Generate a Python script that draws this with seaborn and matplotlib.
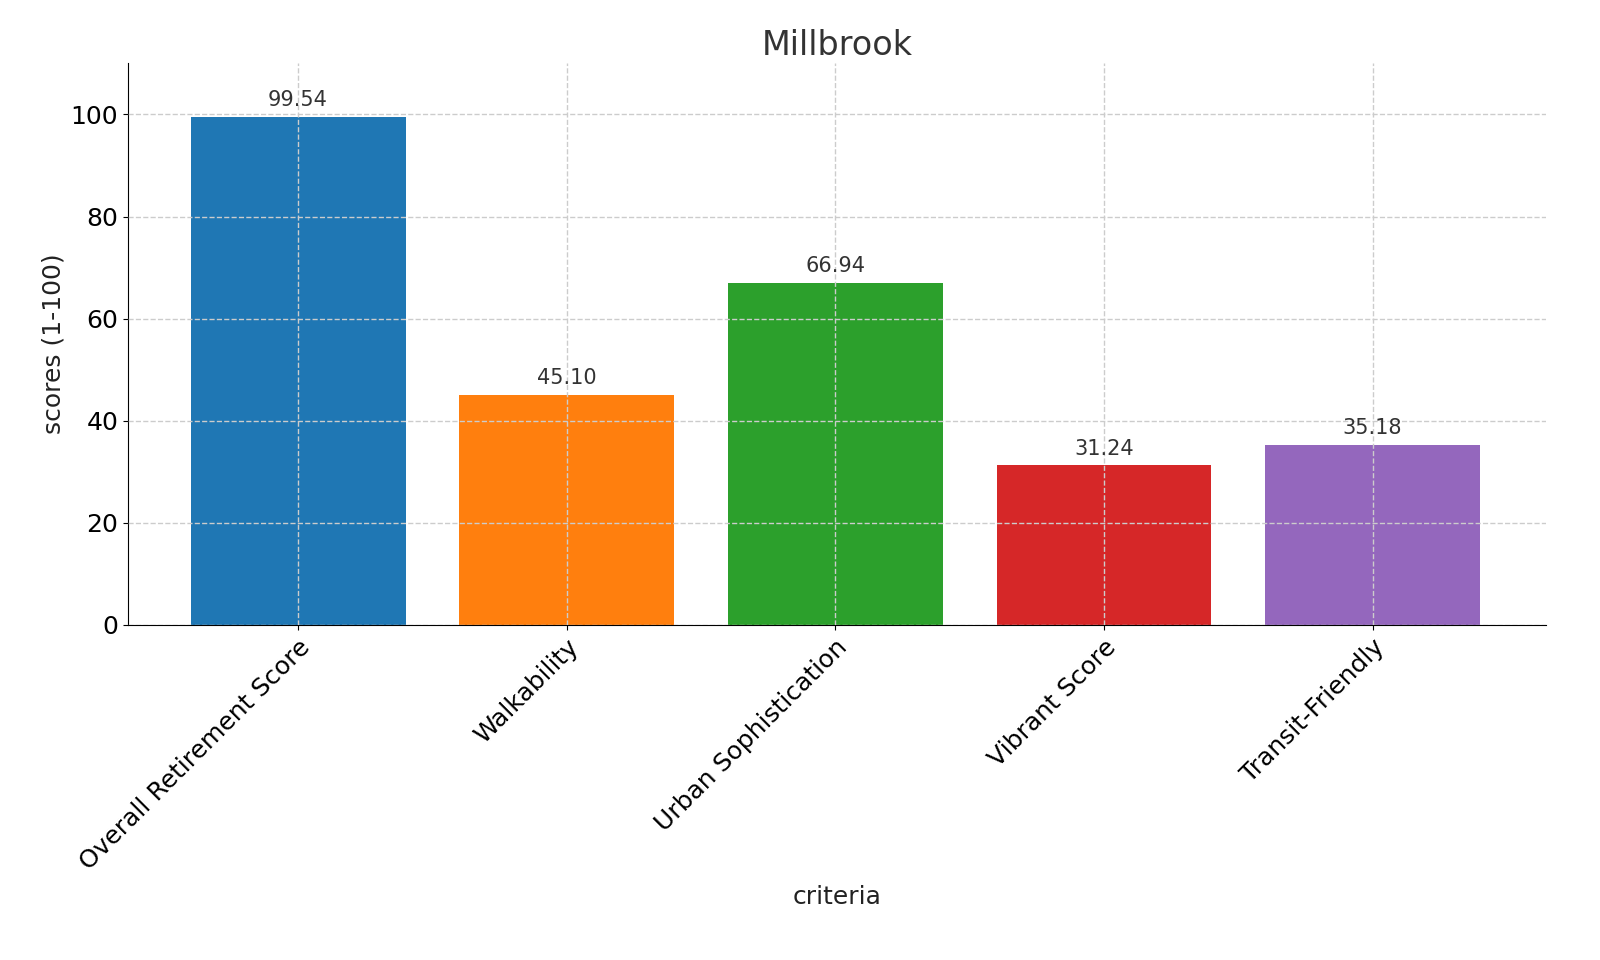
import seaborn as sns
import matplotlib.pyplot as plt
import pandas as pd

criteria = ["Overall Retirement Score", "Walkability", "Urban Sophistication",
            "Vibrant Score", "Transit-Friendly"]
scores = [99.54, 45.10, 66.94, 31.24, 35.18]
colors = ["#1f77b4", "#ff7f0e", "#2ca02c", "#d62728", "#9467bd"]

df = pd.DataFrame({"criteria": criteria, "scores": scores})

fig, ax = plt.subplots(figsize=(16, 9.6), dpi=100)
fig.subplots_adjust(left=0.08, right=0.966, top=0.934, bottom=0.349)
sns.barplot(data=df, x="criteria", y="scores", hue="criteria", palette=colors,
            legend=False, width=0.8, saturation=1, ax=ax, zorder=2)
for i, v in enumerate(scores):
    ax.annotate(f"{v:.2f}", (i, v), xytext=(0, 5), textcoords="offset points",
                ha="center", va="bottom", fontsize=15, color="#333333")
ax.set_ylim(0, 110)
ax.set_xlim(-0.633, 4.644)
ax.grid(True, linestyle="--", color="#cccccc", linewidth=1, zorder=3)
ax.set_axisbelow(False)
for s in ["top", "right"]:
    ax.spines[s].set_visible(False)
ax.set_title("Millbrook", fontsize=24, color="#333333")
ax.set_xlabel("criteria", fontsize=18, color="#222222", labelpad=8)
ax.set_ylabel("scores (1-100)", fontsize=18, color="#222222")
ax.tick_params(labelsize=18)
plt.setp(ax.get_xticklabels(), rotation=45, ha="right", rotation_mode="anchor")
plt.savefig("out.png")
plt.close()
